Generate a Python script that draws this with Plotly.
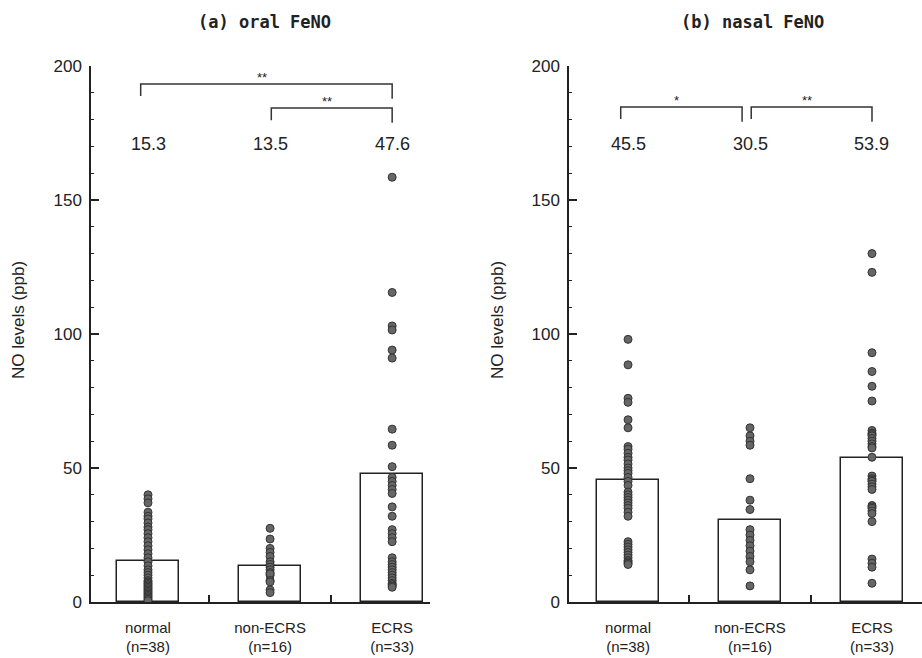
import plotly.graph_objects as go

# ---------------- data ----------------
categories = ["normal", "non-ECRS", "ECRS"]
group_n = [38, 16, 33]

oral_means = [15.3, 13.5, 47.6]
nasal_means = [45.5, 30.5, 53.9]

oral_normal = [40, 38.5, 37, 33.5, 32, 31, 29.5, 28, 27, 25.5, 24, 22.5, 21, 19.5,
               18, 16.5, 15, 13.5, 12, 11, 10, 9, 8, 7.5, 7, 6.5, 6, 5.5, 5, 4.5,
               4, 3.5, 3, 2.5, 2, 1.5, 1, 0.5]
oral_nonecrs = [27.5, 23.5, 20, 18.5, 17, 15, 14, 13, 12, 11, 10, 10.5, 8, 7.5, 4.5, 3.5]
oral_ecrs = [158.5, 115.5, 103, 101.5, 94, 91, 64.5, 58.5, 50.5, 46.5, 45, 43.5, 42,
             40.5, 35.5, 32, 27, 25.5, 24, 22.5, 16.5, 15, 14, 13, 12, 11, 10, 9, 8,
             7, 6.5, 6, 5.5]

nasal_normal = [98, 88.5, 76, 74.5, 68, 65, 58, 57, 55.5, 54, 53, 51.5, 50, 49, 48,
                46.5, 45, 43.5, 41, 40, 39, 38, 37, 36, 35, 33.5, 32, 22.5, 21.5,
                20.5, 19.5, 18.5, 17.5, 16.5, 15.5, 15, 14.5, 14]
nasal_nonecrs = [65, 62, 60, 58.5, 46, 38, 34.5, 27, 25, 23, 21, 19, 17, 15, 12, 6]
nasal_ecrs = [130, 123, 93, 86, 80.5, 75, 64, 63, 62.5, 62, 61, 60, 59, 58, 57.5, 54,
              47, 46, 45.5, 45, 44, 43, 42, 36, 35.5, 35, 34, 33, 30, 16, 14.5, 13, 7]

# comparisons: (from group, to group, bracket height, label)
oral_brackets = [(0, 2, 193.3, "**"), (1, 2, 184.3, "**")]
nasal_brackets = [(0, 1, 184.7, "*"), (1, 2, 184.7, "**")]

y_ticks = [0, 50, 100, 150, 200]
mean_label_level = 171

# ---------------- style ----------------
FONT = "Liberation Sans, Arial, sans-serif"
TITLE_FONT = "DejaVu Sans Mono, monospace"
INK = "#222222"
DOT = "#666666"

fig = go.Figure()

panels = [
    ("x", "y", oral_means, [oral_normal, oral_nonecrs, oral_ecrs], oral_brackets),
    ("x2", "y2", nasal_means, [nasal_normal, nasal_nonecrs, nasal_ecrs], nasal_brackets),
]
last = len(categories) - 1

for xa, ya, means, groups, brackets in panels:
    fig.add_trace(go.Bar(
        x=list(range(len(categories))), y=means, width=0.51,
        marker=dict(color="white", line=dict(color=INK, width=1.5)),
        xaxis=xa, yaxis=ya, showlegend=False, hoverinfo="skip"))
    for i, vals in enumerate(groups):
        fig.add_trace(go.Scatter(
            x=[i] * len(vals), y=vals, mode="markers",
            marker=dict(size=8, color=DOT, line=dict(color="#333333", width=1)),
            xaxis=xa, yaxis=ya, showlegend=False, hoverinfo="y"))
    for i, m in enumerate(means):
        fig.add_annotation(x=i, y=mean_label_level, xref=xa, yref=ya,
                           text=f"{m}", showarrow=False,
                           font=dict(family=FONT, size=18, color=INK))
    tip = 4.5
    for a, b, h, lab in brackets:
        x0 = a - 0.06 if a == 0 else a + 0.01
        x1 = b if b == last else b - 0.065
        fig.add_trace(go.Scatter(
            x=[x0, x0, x1, x1], y=[h - tip, h, h, h - tip - 1], mode="lines",
            line=dict(color="#333333", width=1.5),
            xaxis=xa, yaxis=ya, showlegend=False, hoverinfo="skip"))
        fig.add_annotation(x=(x0 + x1) / 2 - 0.04, y=h, xref=xa, yref=ya,
                           text=lab, showarrow=False, yanchor="bottom", yshift=-3,
                           font=dict(family=FONT, size=13, color=INK))

tick_text = [f"{c}<br>(n={n})" for c, n in zip(categories, group_n)]

xcommon = dict(
    tickmode="array", tickvals=list(range(len(categories))), ticktext=tick_text,
    ticks="", showline=True, linecolor=INK, linewidth=1.5, showgrid=False,
    zeroline=False, tickfont=dict(family=FONT, size=15, color=INK),
    ticklabelstandoff=11,
    minor=dict(tickvals=[0.5, 1.5], ticks="inside", ticklen=7,
               tickcolor=INK, tickwidth=1.5),
    fixedrange=True, automargin=False,
)
ycommon = dict(
    range=[0, 200], tickmode="array", tickvals=y_ticks,
    ticks="inside", ticklen=8, tickwidth=1.5, tickcolor=INK,
    showline=True, linecolor=INK, linewidth=1.5, showgrid=False, zeroline=False,
    tickfont=dict(family=FONT, size=17, color=INK), ticklabelstandoff=4,
    minor=dict(dtick=10, ticks="inside", ticklen=3, tickwidth=1, tickcolor=INK),
    domain=[56 / 658, 592 / 658], fixedrange=True, automargin=False,
)

fig.update_layout(
    width=922, height=658,
    margin=dict(l=0, r=0, t=0, b=0, autoexpand=False),
    paper_bgcolor="white", plot_bgcolor="white",
    xaxis=dict(xcommon, domain=[91 / 922, 430 / 922], range=[-0.467, 2.31], anchor="y"),
    xaxis2=dict(xcommon, domain=[569 / 922, 1.0], range=[-0.484, 2.41], anchor="y2"),
    yaxis=dict(ycommon, anchor="x"),
    yaxis2=dict(ycommon, anchor="x2"),
    bargap=0,
)

# panel titles
fig.add_annotation(x=264 / 922, y=1 - 22 / 658, xref="paper", yref="paper",
                   xanchor="center", yanchor="middle",
                   text="<b>(a) oral FeNO</b>", showarrow=False,
                   font=dict(family=TITLE_FONT, size=17, color=INK))
fig.add_annotation(x=752 / 922, y=1 - 22 / 658, xref="paper", yref="paper",
                   xanchor="center", yanchor="middle",
                   text="<b>(b) nasal FeNO</b>", showarrow=False,
                   font=dict(family=TITLE_FONT, size=17, color=INK))
# y-axis titles
for xp in (18 / 922, 497 / 922):
    fig.add_annotation(x=xp, y=1 - 320 / 658, xref="paper", yref="paper",
                       xanchor="center", yanchor="middle",
                       text="NO levels (ppb)", showarrow=False, textangle=-90,
                       font=dict(family=FONT, size=17, color=INK))

fig.write_html("out.html", config={"displayModeBar": False},
               post_script="document.body.style.margin='0';document.body.style.overflow='hidden';")
